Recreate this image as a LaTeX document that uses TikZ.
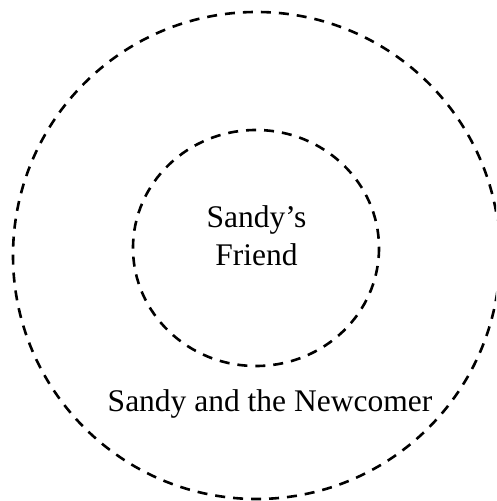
\documentclass[tikz,border=0pt]{standalone}
\usepackage{fontspec}
\setmainfont{Liberation Serif}
\usetikzlibrary{positioning}

\begin{document}
\begin{tikzpicture}[x=0.5pt,y=-0.5pt,ring/.style={draw=black,line width=1.3pt,dash pattern=on 5pt off 4pt},lbl/.style={font=\fontsize{15.75}{18.5}\selectfont,inner sep=0pt,align=center}]
\useasboundingbox (0,0) rectangle (496,501);
\clip (0,0) rectangle (496,501);
\draw[ring] (256.5,255.5) ellipse [x radius=243.5,y radius=243.5];
\draw[ring] (256,248) ellipse [x radius=123,y radius=118];
\node[lbl,anchor=base] (friend) at (256.5,265) {Sandy’s\\Friend};
\node[lbl,anchor=base] (newcomer) at (270,411) {Sandy and the Newcomer};
\end{tikzpicture}
\end{document}
